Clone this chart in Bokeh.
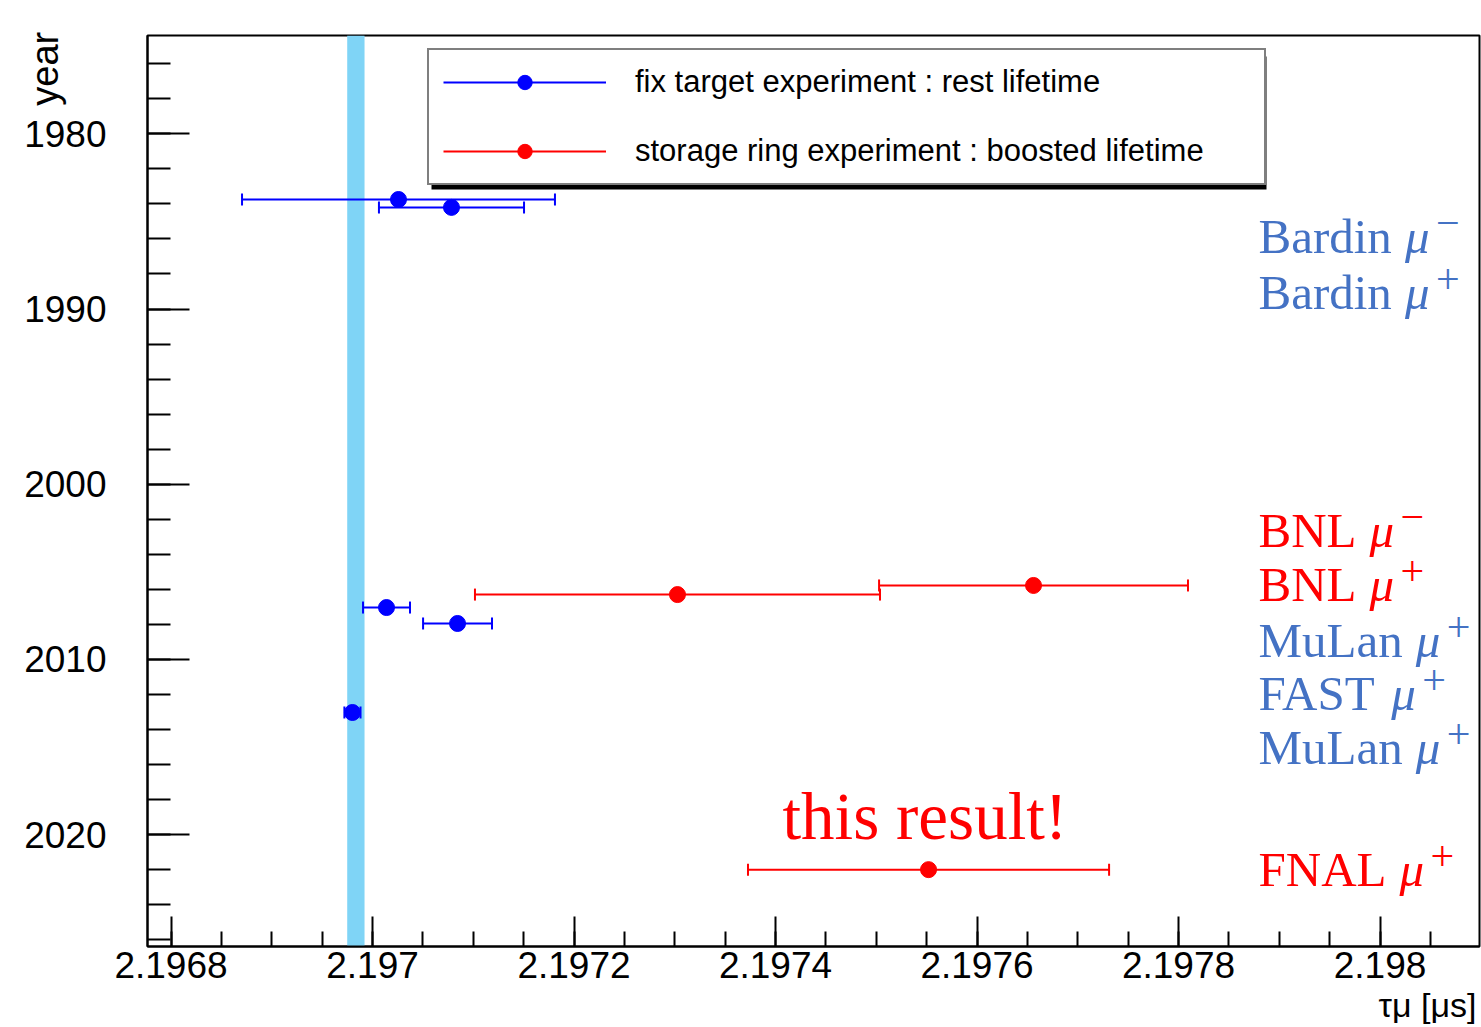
import math
from bokeh.plotting import figure
from bokeh.models import (Range1d, FixedTicker, CustomJSTickFormatter, Label, Legend,
                          LegendItem, BoxAnnotation, ColumnDataSource)
from bokeh.embed import file_html
from bokeh.resources import INLINE

# ---------------- data ----------------
fix_tau = [2.1970258, 2.1970784, 2.1970139, 2.1970844, 2.1969801]
fix_err = [0.0001553, 0.0000720, 0.0000233, 0.0000342, 0.0000080]
fix_year = [1983.75, 1984.20, 2007.04, 2007.95, 2013.03]

ring_tau = [2.1973027, 2.1976561, 2.1975519]
ring_err = [0.0002010, 0.0001533, 0.0001792]
ring_year = [2006.30, 2005.78, 2022.00]

band_tau = [2.1969749, 2.1969921]

x_ticks = [2.1968, 2.1970, 2.1972, 2.1974, 2.1976, 2.1978, 2.1980]
y_ticks = [1980, 1990, 2000, 2010, 2020]
x_title = "\u03c4\u03bc [\u03bcs]"
y_title = "year"

legend_labels = ["fix target experiment : rest lifetime",
                 "storage ring experiment : boosted lifetime"]

exp_names = ["Bardin", "Bardin", "BNL", "BNL", "MuLan", "FAST", "MuLan", "FNAL"]
exp_charges = ["\u2212", "+", "\u2212", "+", "+", "+", "+", "+"]
exp_kind = ["fix", "fix", "ring", "ring", "fix", "fix", "fix", "ring"]

# ---------------- styles / layout ----------------
BLUE = "#0000ff"
RED = "#ff0000"
TXT_BLUE = "#4472c4"
BAND = "#7fd4f6"
NBSP = "\u00a0"

W, H = 1481, 1027
FL, FT, FR, FB = 147, 35, 1479, 946
SX = 1007500.0      # px per microsecond
SY = 17.52          # px per year
x_start = 2.1968 - (170.5 - FL) / SX
y_top = 1980 - (133.3 - FT) / SY
BASE_SHIFT = 0.34   # observed offset of the rendered baseline (in em)


def px2x(px):
    return x_start + (px - FL) / SX


def py2y(py):
    return y_top + (py - FT) / SY


def base_y(py, fs):
    return py2y(py - BASE_SHIFT * fs)


p = figure(width=W, height=H, output_backend="svg", toolbar_location=None, title=None,
           x_range=Range1d(x_start, x_start + (FR - FL) / SX),
           y_range=Range1d(y_top + (FB - FT) / SY, y_top),
           min_border_left=FL, min_border_right=W - FR, min_border_top=FT,
           min_border_bottom=H - FB)
p.background_fill_color = "white"
p.border_fill_color = "white"
p.outline_line_color = "black"
p.outline_line_width = 2
p.xgrid.visible = False
p.ygrid.visible = False

# band
p.add_layout(BoxAnnotation(left=band_tau[0], right=band_tau[1], fill_color=BAND,
                           fill_alpha=1.0, line_alpha=0, level="underlay"))


def series(tau, err, year, color):
    lo = [t - e for t, e in zip(tau, err)]
    hi = [t + e for t, e in zip(tau, err)]
    src = ColumnDataSource(dict(tau=tau, lo=lo, hi=hi, year=year))
    caps = ColumnDataSource(dict(x=lo + hi, y=year + year))
    seg = p.segment(x0="lo", y0="year", x1="hi", y1="year", source=src,
                    line_color=color, line_width=2)
    p.scatter(x="x", y="y", source=caps, marker="dash", angle=math.pi / 2, size=12,
              line_color=color, line_width=2)
    pts = p.scatter(x="tau", y="year", source=src, marker="circle", size=16,
                    fill_color=color, line_color=color)
    return seg, pts


seg_f, pts_f = series(fix_tau, fix_err, fix_year, BLUE)
seg_r, pts_r = series(ring_tau, ring_err, ring_year, RED)

# axes
xa = p.xaxis[0]
xa.ticker = FixedTicker(ticks=x_ticks,
                        minor_ticks=[2.1968 + k * 0.00005 for k in range(-1, 27)])
xa.formatter = CustomJSTickFormatter(code="return Number(tick.toFixed(4)).toString()")
xa.major_tick_in = 30
xa.major_tick_out = 0
xa.minor_tick_in = 15
xa.minor_tick_out = 0
xa.major_label_standoff = 5

ya = p.yaxis[0]
ya.ticker = FixedTicker(ticks=y_ticks, minor_ticks=list(range(1974, 2028, 2)))
ya.major_tick_in = 42
ya.major_tick_out = 0
ya.minor_tick_in = 23
ya.minor_tick_out = 0
ya.major_label_standoff = 41

for ax in (xa, ya):
    ax.axis_line_width = 2
    ax.axis_line_color = "black"
    ax.major_tick_line_width = 2
    ax.minor_tick_line_width = 2
    ax.major_tick_line_color = "black"
    ax.minor_tick_line_color = "black"
    ax.major_label_text_font = "Liberation Sans"
    ax.major_label_text_font_size = "37px"
    ax.major_label_text_color = "black"
    ax.axis_label_text_font = "Liberation Sans"
    ax.axis_label_text_font_style = "normal"
    ax.axis_label_text_color = "black"

# axis titles: centred labels, padded with no-break spaces so the visible
# words sit at the end of each axis (as in the original ROOT canvas)
xa.axis_label = NBSP * 130 + x_title
xa.axis_label_text_font_size = "34px"
xa.axis_label_standoff = 5

ya.axis_label = NBSP * 80 + y_title
ya.axis_label_text_font_size = "38px"
ya.axis_label_standoff = -45

# legend shadow + legend
p.add_layout(BoxAnnotation(left=px2x(431), right=px2x(1266), top=py2y(56),
                           bottom=py2y(189), fill_color="black", fill_alpha=1.0,
                           line_alpha=0))
legend = Legend(items=[LegendItem(label=legend_labels[0], renderers=[seg_f, pts_f]),
                       LegendItem(label=legend_labels[1], renderers=[seg_r, pts_r])],
                location=(427 - FL, FB - 185),
                padding=14, spacing=33, glyph_width=163, glyph_height=36,
                label_standoff=29, label_width=615, label_height=36, margin=0,
                border_line_color="black", border_line_width=2,
                background_fill_color="white", background_fill_alpha=1.0,
                label_text_font="Liberation Sans", label_text_font_size="31px",
                label_text_color="black")
p.add_layout(legend, "center")

# experiment labels on the right
TIMES_W = {'B': .667, 'a': .444, 'r': .333, 'd': .5, 'i': .278, 'n': .5, 'N': .722,
           'L': .611, 'M': .889, 'u': .5, 'F': .556, 'A': .722, 'S': .556, 'T': .611}
FS = 49
FSUP = 42
label_baselines = [253, 309, 547, 601, 657, 710, 764, 886]
for name, ch, kind, base in zip(exp_names, exp_charges, exp_kind, label_baselines):
    col = TXT_BLUE if kind == "fix" else RED
    wname = sum(TIMES_W[c] for c in name) * FS
    x_mu = 1258 + wname + 13
    p.add_layout(Label(x=px2x(1258), y=base_y(base, FS), text=name,
                       text_font="Liberation Serif", text_font_size=f"{FS}px",
                       text_color=col, text_baseline="alphabetic"))
    p.add_layout(Label(x=px2x(x_mu), y=base_y(base, FS), text="\u03bc",
                       text_font="Liberation Serif", text_font_style="italic",
                       text_font_size=f"{FS}px", text_color=col, text_baseline="alphabetic"))
    sup_base = base - 27 + 0.25 * FSUP
    p.add_layout(Label(x=px2x(x_mu + 31), y=base_y(sup_base, FSUP), text=ch,
                       text_font="Liberation Serif", text_font_size=f"{FSUP}px",
                       text_color=col, text_baseline="alphabetic"))

p.add_layout(Label(x=px2x(782), y=base_y(838, 67), text="this result!",
                   text_font="Liberation Serif", text_font_size="67px", text_color=RED,
                   text_baseline="alphabetic"))

open("out.html", "w").write(file_html(p, INLINE))
